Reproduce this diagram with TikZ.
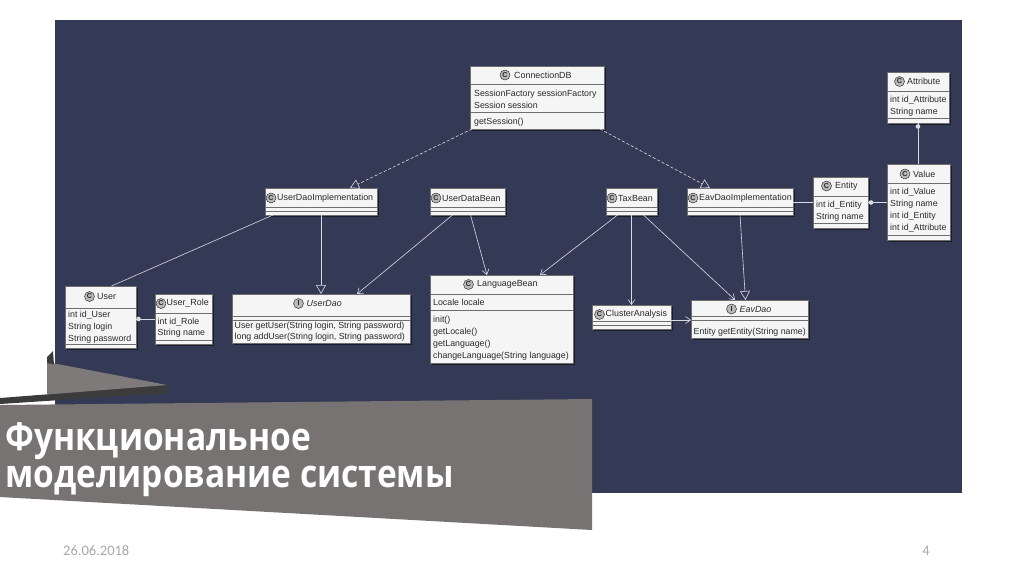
\documentclass[tikz,border=0pt]{standalone}
\usepackage{fontspec}
\setmainfont{Liberation Sans}
\newfontfamily\titlefnt[FakeStretch=0.87]{Open Sans}
\newfontfamily\footfnt{Carlito}
\usetikzlibrary{arrows.meta,shadows,calc}
\definecolor{navy}{HTML}{343A55}
\definecolor{bannergray}{HTML}{767372}
\definecolor{folddark}{HTML}{3C3B3B}
\definecolor{foldgray}{HTML}{7D7A79}
\definecolor{boxfill}{HTML}{F5F5F5}
\definecolor{boxborder}{HTML}{6E6E6E}
\definecolor{umltext}{HTML}{2A2A2A}
\definecolor{conncol}{HTML}{D8DAE0}
\definecolor{icofill}{HTML}{B8B8B8}
\definecolor{footgray}{HTML}{A8A8A8}
\newcommand\umlfnt{\fontsize{8.8}{9}\selectfont}
\newcommand\hdrfnt{\fontsize{8.9}{9}\selectfont}
\newcommand\icofnt{\fontsize{7.2}{7}\selectfont\bfseries}
\tikzset{
  cls/.style={draw=boxborder, fill=boxfill, line width=0.5pt, inner sep=0pt, outer sep=0pt, anchor=north west,
    drop shadow={shadow xshift=1.8pt, shadow yshift=-1.8pt, fill=black, opacity=0.5}},
  sepline/.style={draw=boxborder, line width=0.5pt},
  txt/.style={font=\umlfnt, text=umltext, inner sep=0pt, anchor=base west},
  hdr/.style={font=\hdrfnt, text=umltext, inner sep=0pt, anchor=west},
  ico/.style={circle, draw=umltext, fill=icofill, line width=0.45pt, minimum size=10pt, inner sep=0pt, font=\icofnt, text=umltext},
  conn/.style={draw=conncol, line width=0.6pt},
  dep/.style={conn, -{Straight Barb[length=5pt,width=7pt]}},
  real/.style={conn, -{Triangle[open,length=9pt,width=10pt]}},
  realdash/.style={conn, dash pattern=on 3pt off 2pt, -{Triangle[open,length=9pt,width=10pt]}},
  dotend/.style={fill=conncol, draw=none},
}
\newcommand\mkbox[5]{\node[cls, minimum width={(#4-(#2))*1pt}, minimum height={(#5-(#3))*1pt}] (#1) at (#2,#3) {};}
\newcommand\hsep[3]{\draw[sepline] (#1,#3) -- (#2,#3);}
\begin{document}
\begin{tikzpicture}[x=1pt,y=-1pt]
\useasboundingbox (0,0) rectangle (1024,574);
\fill[white] (0,0) rectangle (1024,574);
% navy panel
\fill[navy] (55,20) rectangle (962,493);

% ---------- ConnectionDB
\mkbox{cdb}{470}{66}{604}{129}
\hsep{470}{604}{84}\hsep{470}{604}{112}
\node[ico] (cdb-i) at (505,75) {C};
\node[hdr] (cdb-t) at (514,75) {ConnectionDB};
\node[txt] (cdb-a1) at (474,96.3) {SessionFactory sessionFactory};
\node[txt] (cdb-a2) at (474,108) {Session session};
\node[txt] (cdb-m1) at (474,124.5) {getSession()};

% ---------- UserDaoImplementation
\mkbox{udi}{265}{188}{377}{215}
\hsep{265}{377}{207}\hsep{265}{377}{211}
\node[ico] (udi-i) at (271,198) {C};
\node[hdr] (udi-t) at (277,198) {UserDaoImplementation};

% ---------- UserDataBean
\mkbox{udb}{430}{188}{505}{215}
\hsep{430}{505}{207}\hsep{430}{505}{211}
\node[ico] (udb-i) at (436,198) {C};
\node[hdr] (udb-t) at (442,198) {UserDataBean};

% ---------- TaxBean
\mkbox{tax}{606}{188}{657}{215}
\hsep{606}{657}{207}\hsep{606}{657}{211}
\node[ico] (tax-i) at (612,198) {C};
\node[hdr] (tax-t) at (618,198) {TaxBean};

% ---------- EavDaoImplementation
\mkbox{edi}{687}{188}{793}{215}
\hsep{687}{793}{207}\hsep{687}{793}{211}
\node[ico] (edi-i) at (693,198) {C};
\node[hdr] (edi-t) at (699,198) {EavDaoImplementation};

% ---------- Attribute
\mkbox{attr}{887}{72}{949}{123}
\hsep{887}{949}{91}\hsep{887}{949}{118.5}
\node[ico] (attr-i) at (899.5,81.5) {C};
\node[hdr] (attr-t) at (907,81.5) {Attribute};
\node[txt] (attr-a1) at (890,102.3) {int id\_Attribute};
\node[txt] (attr-a2) at (890,114.5) {String name};

% ---------- Value
\mkbox{val}{887}{164}{950}{240}
\hsep{887}{950}{183}\hsep{887}{950}{235}
\node[ico] (val-i) at (905,174) {C};
\node[hdr] (val-t) at (913,174) {Value};
\node[txt] (val-a1) at (890,194.6) {int id\_Value};
\node[txt] (val-a2) at (890,206.8) {String name};
\node[txt] (val-a3) at (890,218.6) {int id\_Entity};
\node[txt] (val-a4) at (890,230.5) {int id\_Attribute};

% ---------- Entity
\mkbox{ent}{813}{177}{868}{228}
\hsep{813}{868}{196}\hsep{813}{868}{223.5}
\node[ico] (ent-i) at (826.5,186) {C};
\node[hdr] (ent-t) at (835,186) {Entity};
\node[txt] (ent-a1) at (816,207) {int id\_Entity};
\node[txt] (ent-a2) at (816,219) {String name};

% ---------- User
\mkbox{user}{65}{286}{136}{348}
\hsep{65}{136}{308}\hsep{65}{136}{344}
\node[ico] (user-i) at (89.5,296.5) {C};
\node[hdr] (user-t) at (97,296.5) {User};
\node[txt] (user-a1) at (68,317) {int id\_User};
\node[txt] (user-a2) at (68,329.5) {String login};
\node[txt] (user-a3) at (68,341.5) {String password};

% ---------- User_Role
\mkbox{role}{155}{294}{212}{344}
\hsep{155}{212}{313}\hsep{155}{212}{340}
\node[ico] (role-i) at (161,303.5) {C};
\node[hdr] (role-t) at (166.5,303.5) {User\_Role};
\node[txt] (role-a1) at (157.5,324.7) {int id\_Role};
\node[txt] (role-a2) at (157.5,335.7) {String name};

% ---------- UserDao
\mkbox{udao}{232}{294}{410}{343}
\hsep{232}{410}{316.5}\hsep{232}{410}{320}
\node[ico] (udao-i) at (298.5,303.5) {I};
\node[hdr] (udao-t) at (306.5,303.5) {\itshape UserDao};
\node[txt] (udao-m1) at (234.5,328.7) {User getUser(String login, String password)};
\node[txt] (udao-m2) at (234.5,339.7) {long addUser(String login, String password)};

% ---------- LanguageBean
\mkbox{lb}{430}{275}{573}{363}
\hsep{430}{573}{294}\hsep{430}{573}{310.5}
\node[ico] (lb-i) at (468.5,284.5) {C};
\node[hdr] (lb-t) at (477,284.5) {LanguageBean};
\node[txt] (lb-a1) at (433,305.7) {Locale locale};
\node[txt] (lb-m1) at (433,322) {init()};
\node[txt] (lb-m2) at (433,334.2) {getLocale()};
\node[txt] (lb-m3) at (433,346.3) {getLanguage()};
\node[txt] (lb-m4) at (433,358.5) {changeLanguage(String language)};

% ---------- ClusterAnalysis
\mkbox{ca}{592}{305}{671}{329}
\hsep{592}{671}{321}\hsep{592}{671}{325}
\node[ico] (ca-i) at (599.5,314.5) {C};
\node[hdr] (ca-t) at (605.5,314.5) {ClusterAnalysis};

% ---------- EavDao
\mkbox{eav}{691}{300}{808}{338}
\hsep{691}{808}{316.5}\hsep{691}{808}{320}
\node[ico] (eav-i) at (731.5,309) {I};
\node[hdr] (eav-t) at (739.5,309) {\itshape EavDao};
\node[txt] (eav-m1) at (693.5,334) {Entity getEntity(String name)};

% ---------- connectors
\draw[realdash] ([xshift=2pt]cdb.south west) -- ([xshift=29pt]udi.north);
\draw[realdash] ([xshift=-4pt]cdb.south east) -- ([xshift=-30pt]edi.north);
\draw[real] (udi.south) -- (udao.north);
\draw[real] (edi.south) -- ([xshift=-4pt]eav.north);
\draw[conn] ([xshift=8pt]udi.south west) -- ([xshift=11pt]user.north);
\draw[dep] ([xshift=-15pt]udb.south) -- ([xshift=36pt]udao.north);
\draw[dep] ([xshift=3pt]udb.south) -- ([xshift=-14.5pt]lb.north);
\draw[dep] ([xshift=-14pt]tax.south) -- ([xshift=38.5pt]lb.north);
\draw[dep] (tax.south) -- (ca.north);
\draw[dep] ([xshift=12pt]tax.south) -- ([xshift=-14.5pt]eav.north);
\draw[dep] ([yshift=-3pt]ca.east) -- ([yshift=-3pt]ca.east -| eav.west);
\draw[conn] (edi.east |- ent.west) -- (ent.west);
\draw[conn] (ent.east) -- (ent.east -| val.west);
\fill[dotend] ([xshift=3pt]ent.east) circle (2.3pt);
\draw[conn] (attr.south) -- (attr.south |- val.north);
\fill[dotend] ([yshift=-3.5pt]attr.south) circle (2.3pt);
\draw[conn] (user.east |- role.west) -- (role.west);
\fill[dotend] ([xshift=2.5pt]user.east |- role.west) circle (2.3pt);

% ---------- banner
\fill[folddark] (0,398) -- (167,385) -- (167,393) -- (0,404) -- cycle;
\fill[foldgray] (47,362) -- (167,385) -- (47,394.5) -- cycle;
\fill[folddark] (47,363) -- (47,357) -- (53,351) -- (54,364.4) -- cycle;
\fill[bannergray] (0,405) -- (592,399) -- (592,530) -- (0,497) -- cycle;
\node[inner sep=0pt, anchor=base west, text=white, font=\titlefnt\bfseries\fontsize{38.5}{39}\selectfont] (title1) at (5,450) {Функциональное};
\node[inner sep=0pt, anchor=base west, text=white, font=\titlefnt\bfseries\fontsize{38.5}{39}\selectfont] (title2) at (5,487) {моделирование системы};

% ---------- footer
\node[inner sep=0pt, anchor=base west, text=footgray, font=\footfnt\fontsize{14.5}{15}\selectfont] (date) at (63,555) {26.06.2018};
\node[inner sep=0pt, anchor=base east, text=footgray, font=\footfnt\fontsize{14.5}{15}\selectfont] (pg) at (930,555) {4};
\end{tikzpicture}
\end{document}
